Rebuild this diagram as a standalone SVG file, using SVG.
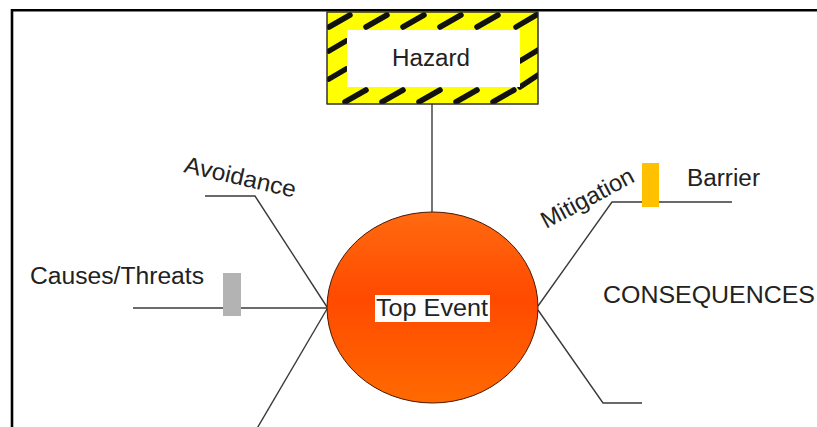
<svg xmlns="http://www.w3.org/2000/svg" width="817" height="427" viewBox="0 0 817 427">
<style>
.t{font-family:"Liberation Sans",Arial,sans-serif;font-size:23.5px;fill:#222}
.c{fill:none;stroke:#3a3a3a;stroke-width:1.4}
.d{stroke:#111;stroke-width:5.5;stroke-linecap:round}
</style>
<defs>
<linearGradient id="og" x1="0" y1="0" x2="0" y2="1">
<stop offset="0" stop-color="#ff6a10"/>
<stop offset="0.45" stop-color="#ff4a00"/>
<stop offset="1" stop-color="#ff6a00"/>
</linearGradient>
<clipPath id="hc"><rect x="327" y="12" width="211" height="92"/></clipPath>
</defs>
<rect width="817" height="427" fill="#fff"/>
<g id="frame" stroke="#000" stroke-width="2.6" fill="none">
<path d="M12 427V10.2H817"/>
</g>
<g id="connectors">
<line class="c" x1="432" y1="104" x2="432" y2="212"/>
<line class="c" x1="133" y1="308" x2="327" y2="308"/>
<polyline class="c" points="205,196 255,196 327,307"/>
<line class="c" x1="327" y1="309" x2="252" y2="437"/>
<polyline class="c" points="538,306 612,202 732,202"/>
<polyline class="c" points="538,310 603,403 642,403"/>
</g>
<g id="hazard">
<rect x="327" y="12" width="211" height="92" fill="#ffff00" stroke="#333" stroke-width="1"/>
<g clip-path="url(#hc)">
<line class="d" x1="329" y1="27" x2="350" y2="15"/>
<line class="d" x1="366" y1="27" x2="387" y2="15"/>
<line class="d" x1="403" y1="27" x2="424" y2="15"/>
<line class="d" x1="440" y1="27" x2="461" y2="15"/>
<line class="d" x1="477" y1="27" x2="498" y2="15"/>
<line class="d" x1="516" y1="27" x2="538" y2="14"/>
<line class="d" x1="329" y1="51" x2="346" y2="41"/>
<line class="d" x1="329" y1="79" x2="346" y2="69"/>
<line class="d" x1="520" y1="61" x2="538" y2="50"/>
<line class="d" x1="520" y1="87" x2="538" y2="75"/>
<line class="d" x1="345" y1="102" x2="366" y2="90"/>
<line class="d" x1="382" y1="102" x2="403" y2="90"/>
<line class="d" x1="419" y1="102" x2="440" y2="90"/>
<line class="d" x1="456" y1="102" x2="477" y2="90"/>
<line class="d" x1="493" y1="102" x2="514" y2="90"/>
</g>
<rect x="327" y="12" width="211" height="92" fill="none" stroke="#333" stroke-width="1"/>
<rect x="347" y="30" width="173" height="57" fill="#fff"/>
<text class="t" x="392" y="65.5" textLength="78" lengthAdjust="spacingAndGlyphs">Hazard</text>
</g>
<g id="top-event">
<ellipse cx="432.5" cy="307.5" rx="105.5" ry="95.5" fill="url(#og)" stroke="#4a1800" stroke-width="1"/>
<rect x="375" y="295" width="115" height="27" fill="#fff"/>
<text class="t" x="376" y="315.5" textLength="112" lengthAdjust="spacingAndGlyphs">Top Event</text>
</g>
<g id="causes">
<text class="t" x="30" y="283.5" textLength="174" lengthAdjust="spacingAndGlyphs">Causes/Threats</text>
<rect x="223" y="273" width="18" height="43" fill="#b3b3b3"/>
</g>
<g id="avoidance">
<text class="t" transform="translate(183,172) rotate(13)" textLength="114" lengthAdjust="spacingAndGlyphs">Avoidance</text>
</g>
<g id="mitigation">
<text class="t" transform="translate(546,229) rotate(-28)" textLength="102" lengthAdjust="spacingAndGlyphs">Mitigation</text>
</g>
<g id="barrier">
<rect x="642" y="163" width="17" height="44" fill="#ffc000"/>
<text class="t" x="687" y="185.5" textLength="73" lengthAdjust="spacingAndGlyphs">Barrier</text>
</g>
<g id="consequences">
<text class="t" x="603" y="302.5" textLength="212" lengthAdjust="spacingAndGlyphs">CONSEQUENCES</text>
</g>
</svg>
